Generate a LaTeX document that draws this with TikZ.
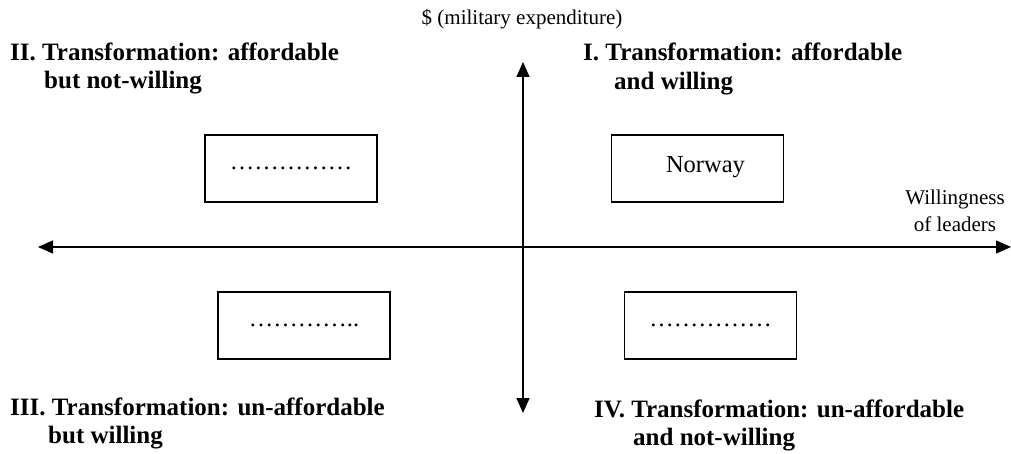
\documentclass[tikz,border=0pt]{standalone}
\usepackage{fontspec}
\setmainfont{Liberation Serif}
\usetikzlibrary{arrows.meta}

\begin{document}
\begin{tikzpicture}[x=1pt,y=-1pt,
    axis/.style={line width=1.4pt,{Triangle[length=15pt,width=13pt]}-{Triangle[length=15pt,width=13pt]}},
    slot/.style={draw,line width=1.4pt,minimum width=172pt,minimum height=67pt,inner sep=0pt,font=\fontsize{24.5}{28}\selectfont},
    quad/.style={anchor=base west,inner sep=0pt,font=\fontsize{25}{30}\selectfont\bfseries},
    txt/.style={anchor=base,inner sep=0pt,font=\fontsize{21}{27}\selectfont}]
  \useasboundingbox (0,0) rectangle (1011,454);
  % axes
  \coordinate (west) at (38,247);
  \coordinate (east) at (1011,247);
  \coordinate (north) at (523,62);
  \coordinate (south) at (523,413);
  \draw[axis] (west) -- (east);
  \draw[axis] (north) -- (south);
  \node[txt] (money) at (522,25) {\$ (military expenditure)};
  \node[txt] (willa) at (955,205) {Willingness};
  \node[txt] (willb) at (955,232) {of leaders};
  % quadrant boxes
  \foreach \name/\x/\y/\txt in {bII/291/168.5/{……………}, bI/697.5/168.5/{\hspace*{16pt}\raisebox{9pt}{Norway}},
      bIII/304/325.5/{…………..}, bIV/710.5/325.5/{……………}}
    \node[slot] (\name) at (\x,\y) {\txt};
  % quadrant titles
  \foreach \name/\x/\y/\txt in {hIIa/10/61/{II. Transformation: affordable}, hIIb/44/89/{but not-willing},
      hIa/583/61/{I. Transformation: affordable}, hIb/614/90/{and willing},
      hIIIa/10/415/{III. Transformation: un-affordable}, hIIIb/48/443/{but willing},
      hIVa/594/417/{IV. Transformation: un-affordable}, hIVb/633/445/{and not-willing}}
    \node[quad] (\name) at (\x,\y) {\txt};
\end{tikzpicture}
\end{document}
